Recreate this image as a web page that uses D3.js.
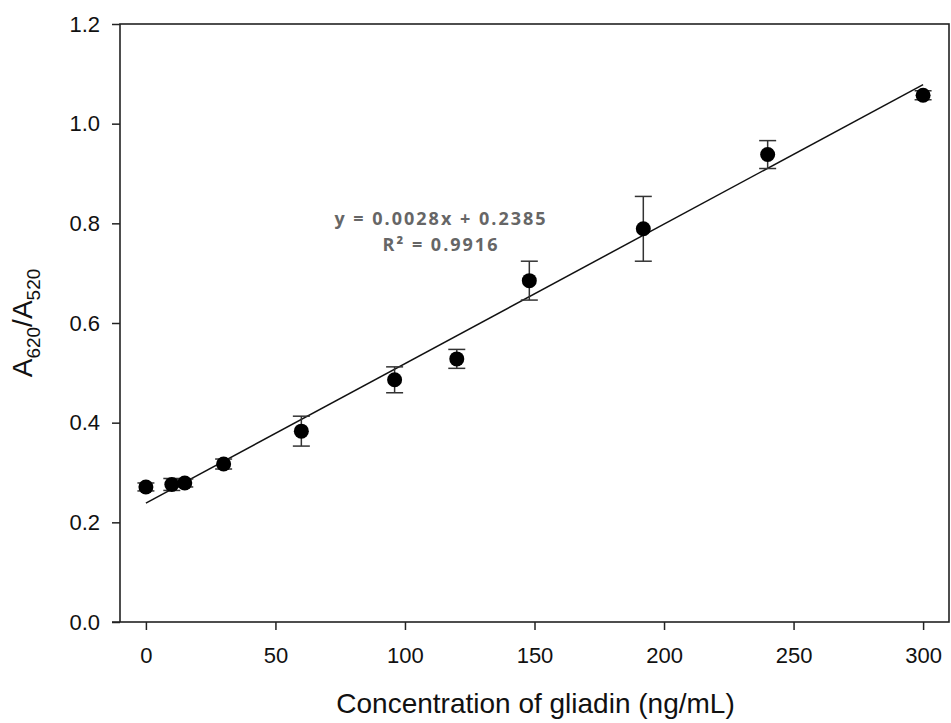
<!DOCTYPE html>
<html>
<head>
<meta charset="utf-8">
<script src="https://cdn.jsdelivr.net/npm/d3@7"></script>
<style>
  body { margin: 0; background: #fff; }
  text { font-family: "Liberation Sans", Arial, sans-serif; }
</style>
</head>
<body>
<div id="chart"></div>
<script>
// gliadin calibration data
const concentrations = [0, 10, 15, 30, 60, 96, 120, 148, 192, 240, 300];
const ratios = [0.271, 0.276, 0.279, 0.317, 0.383, 0.486, 0.528, 0.685, 0.789, 0.938, 1.057];
const errors = [0.008, 0.012, 0.008, 0.010, 0.030, 0.026, 0.019, 0.039, 0.065, 0.028, 0.009];
const fitCoef = [0.0028, 0.2385]; // slope, intercept
const fitRange = [0, 300];
const xTicks = [0, 50, 100, 150, 200, 250, 300];
const yTicks = [0, 0.2, 0.4, 0.6, 0.8, 1.0, 1.2];
const eqnLines = ["y = 0.0028x + 0.2385", "R\u00B2 = 0.9916"];

const W = 951, H = 723;
const margin = {top: 24, right: 2, bottom: 101, left: 120};

const svg = d3.select("#chart").append("svg")
  .attr("width", W).attr("height", H);

const x = d3.scaleLinear().domain([-10, 310]).range([margin.left, W - margin.right]);
const y = d3.scaleLinear().domain([0, 1.2]).range([H - margin.bottom, margin.top]);

// frame
svg.append("rect")
  .attr("x", x.range()[0]).attr("y", y.range()[1])
  .attr("width", x.range()[1] - x.range()[0])
  .attr("height", y.range()[0] - y.range()[1])
  .attr("fill", "none").attr("stroke", "#222").attr("stroke-width", 1.6);

// axes
const xAxis = svg.append("g")
  .attr("transform", `translate(0,${y.range()[0]})`)
  .call(d3.axisBottom(x).tickValues(xTicks).tickSize(8).tickPadding(17).tickFormat(d3.format("d")));
const yAxis = svg.append("g")
  .attr("transform", `translate(${x.range()[0]},0)`)
  .call(d3.axisLeft(y).tickValues(yTicks).tickSize(8).tickPadding(12).tickFormat(d3.format(".1f")));

[xAxis, yAxis].forEach(a => {
  a.select(".domain").remove();
  a.selectAll("line").attr("stroke", "#222").attr("stroke-width", 1.5);
  a.selectAll("text").attr("fill", "#111").style("font-size", "22px")
    .style("font-family", "'Liberation Sans', Arial, sans-serif");
});
// extend bottom line out to the corner tick
svg.append("line")
  .attr("x1", x.range()[0] - 8).attr("x2", x.range()[0])
  .attr("y1", y.range()[0]).attr("y2", y.range()[0])
  .attr("stroke", "#222").attr("stroke-width", 1.5);

// axis titles
svg.append("text")
  .attr("x", (x.range()[0] + x.range()[1]) / 2 + 1)
  .attr("y", 713)
  .attr("text-anchor", "middle")
  .style("font-size", "28px").attr("fill", "#111")
  .text("Concentration of gliadin (ng/mL)");

const yLab = svg.append("text")
  .attr("transform", `translate(32,${(y.range()[0] + y.range()[1]) / 2}) rotate(-90)`)
  .attr("text-anchor", "middle")
  .style("font-size", "28px").attr("fill", "#111");
yLab.append("tspan").text("A");
yLab.append("tspan").attr("dy", 8).style("font-size", "19px").text("620");
yLab.append("tspan").attr("dy", -8).text("/A");
yLab.append("tspan").attr("dy", 8).style("font-size", "19px").text("520");

// regression line
svg.append("line")
  .attr("x1", x(fitRange[0])).attr("y1", y(fitCoef[0] * fitRange[0] + fitCoef[1]))
  .attr("x2", x(fitRange[1])).attr("y2", y(fitCoef[0] * fitRange[1] + fitCoef[1]))
  .attr("stroke", "#111").attr("stroke-width", 1.5);

// error bars
const pts = concentrations.map((c, i) => ({c, v: ratios[i], e: errors[i]}));
const eb = svg.append("g").attr("stroke", "#333").attr("stroke-width", 1.5);
eb.selectAll(".ev").data(pts).enter().append("line")
  .attr("x1", d => x(d.c)).attr("x2", d => x(d.c))
  .attr("y1", d => y(d.v - d.e)).attr("y2", d => y(d.v + d.e));
eb.selectAll(".capT").data(pts).enter().append("line")
  .attr("x1", d => x(d.c) - 8.5).attr("x2", d => x(d.c) + 8.5)
  .attr("y1", d => y(d.v + d.e)).attr("y2", d => y(d.v + d.e));
eb.selectAll(".capB").data(pts).enter().append("line")
  .attr("x1", d => x(d.c) - 8.5).attr("x2", d => x(d.c) + 8.5)
  .attr("y1", d => y(d.v - d.e)).attr("y2", d => y(d.v - d.e));

// points
svg.selectAll(".pt").data(pts).enter().append("circle")
  .attr("cx", d => x(d.c)).attr("cy", d => y(d.v))
  .attr("r", 7.5).attr("fill", "#000");

// equation
svg.append("g").selectAll("text").data(eqnLines).enter().append("text")
  .attr("x", 441).attr("y", (d, i) => 225 + i * 26)
  .attr("text-anchor", "middle")
  .style("font-family", "'Open Sans', 'Noto Sans', sans-serif")
  .style("font-weight", "bold").style("font-size", "18px")
  .style("letter-spacing", "2px")
  .attr("fill", "#666")
  .text(d => d);
</script>
</body>
</html>
